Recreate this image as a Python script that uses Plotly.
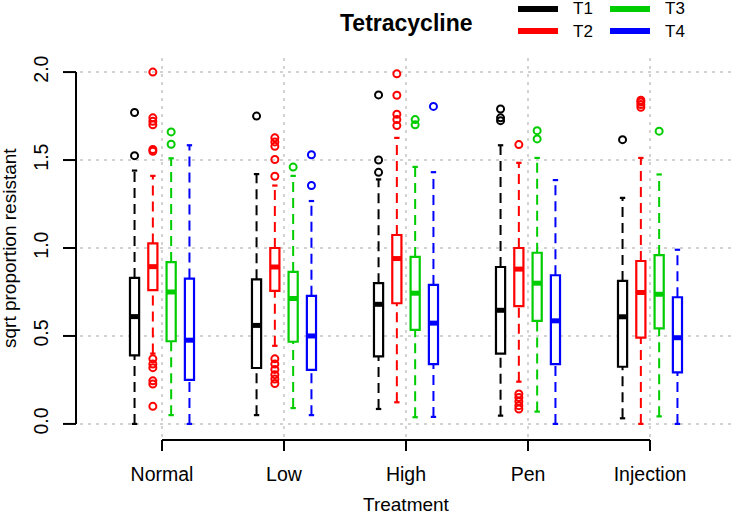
import plotly.graph_objects as go

# ---------------- data ----------------
groups = ["Normal", "Low", "High", "Pen", "Injection"]
series = ["T1", "T2", "T3", "T4"]
colors = ["#000000", "#FF0000", "#00CD00", "#0000FF"]

lower_whisker = [
    [0.00, 0.05, 0.085, 0.047, 0.032],
    [0.40, 0.444, 0.123, 0.24, 0.00],
    [0.05, 0.09, 0.038, 0.07, 0.043],
    [0.00, 0.05, 0.04, 0.00, 0.00],
]
q1 = [
    [0.39, 0.318, 0.384, 0.40, 0.325],
    [0.76, 0.756, 0.686, 0.67, 0.49],
    [0.47, 0.467, 0.535, 0.586, 0.543],
    [0.25, 0.307, 0.34, 0.34, 0.293],
]
median = [
    [0.61, 0.56, 0.68, 0.646, 0.609],
    [0.894, 0.892, 0.94, 0.88, 0.747],
    [0.75, 0.713, 0.743, 0.80, 0.737],
    [0.476, 0.50, 0.573, 0.586, 0.49],
]
q3 = [
    [0.83, 0.822, 0.80, 0.892, 0.813],
    [1.026, 1.00, 1.074, 1.00, 0.926],
    [0.92, 0.864, 0.949, 0.973, 0.96],
    [0.826, 0.728, 0.79, 0.845, 0.72],
]
upper_whisker = [
    [1.44, 1.42, 1.39, 1.584, 1.285],
    [1.41, 1.355, 1.626, 1.484, 1.512],
    [1.51, 1.41, 1.461, 1.512, 1.418],
    [1.584, 1.267, 1.431, 1.386, 0.99],
]
outliers = [
    [[1.525, 1.77], [1.75], [1.43, 1.50, 1.87], [1.724, 1.74, 1.79], [1.616]],
    [[0.10, 0.227, 0.245, 0.32, 0.34, 0.37, 1.55, 1.56, 1.70, 1.72, 1.74, 2.0],
     [0.23, 0.255, 0.28, 0.31, 0.34, 0.37, 1.408, 1.503, 1.578, 1.603, 1.626],
     [1.696, 1.73, 1.76, 1.868, 1.99],
     [0.085, 0.104, 0.127, 0.15, 0.17, 1.588],
     [1.80, 1.815, 1.83, 1.84]],
    [[1.59, 1.66], [1.46], [1.70, 1.73], [1.62, 1.667], [1.664]],
    [[], [1.355, 1.53], [1.805], [], []],
]
yticks = [0.0, 0.5, 1.0, 1.5, 2.0]

# ---------------- layout geometry ----------------
W, H = 733, 516
ML, MR, MT, MB = 80, 0, 58, 78
PW, PH = W - ML - MR, H - MT - MB
offsets = [-0.225, -0.075, 0.075, 0.225]
box_w = 0.075
cap_hw = 0.022
FONT = "Liberation Sans, Arial, sans-serif"


def px_x(px):
    return (px - ML) / PW


def px_y(py):
    return 1 - (py - MT) / PH


fig = go.Figure()

for s, name in enumerate(series):
    col = colors[s]
    pos = [g + 1 + offsets[s] for g in range(len(groups))]
    # dashed whiskers
    wx, wy = [], []
    for i, p in enumerate(pos):
        wx += [p, p, None, p, p, None]
        wy += [lower_whisker[s][i], q1[s][i], None, q3[s][i], upper_whisker[s][i], None]
    fig.add_trace(go.Scatter(x=wx, y=wy, mode="lines", showlegend=False, hoverinfo="skip",
                             line=dict(color=col, width=2, dash="10px,6px")))
    # box body
    fig.add_trace(go.Box(x=pos, q1=q1[s], median=median[s], q3=q3[s],
                         lowerfence=q1[s], upperfence=q3[s], width=box_w,
                         whiskerwidth=0, fillcolor="white", name=name, showlegend=False,
                         line=dict(color=col, width=2.2), hoverinfo="skip"))
    # thick median
    mx, my = [], []
    for i, p in enumerate(pos):
        mx += [p - box_w / 2, p + box_w / 2, None]
        my += [median[s][i], median[s][i], None]
    fig.add_trace(go.Scatter(x=mx, y=my, mode="lines", showlegend=False, hoverinfo="skip",
                             line=dict(color=col, width=5)))
    # staples
    cx, cy = [], []
    for i, p in enumerate(pos):
        for v in (lower_whisker[s][i], upper_whisker[s][i]):
            cx += [p - cap_hw, p + cap_hw, None]
            cy += [v, v, None]
    fig.add_trace(go.Scatter(x=cx, y=cy, mode="lines", showlegend=False, hoverinfo="skip",
                             line=dict(color=col, width=2.2)))
    # outliers
    ox, oy = [], []
    for i, p in enumerate(pos):
        for v in outliers[s][i]:
            ox.append(p)
            oy.append(v)
    fig.add_trace(go.Scatter(x=ox, y=oy, mode="markers", showlegend=False, hoverinfo="skip",
                             marker=dict(symbol="circle-open", size=7, color=col,
                                         line=dict(color=col, width=2))))

shapes = []
# y-axis bracket
shapes.append(dict(type="line", xref="paper", xsizemode="pixel", xanchor=0, x0=-4, x1=-4,
                   yref="y", y0=yticks[0], y1=yticks[-1], line=dict(color="black", width=2)))
for v in yticks:
    shapes.append(dict(type="line", xref="paper", xsizemode="pixel", xanchor=0, x0=-4, x1=-17,
                       yref="y", y0=v, y1=v, line=dict(color="black", width=2)))
# x-axis bracket
shapes.append(dict(type="line", yref="paper", ysizemode="pixel", yanchor=0, y0=-2, y1=-2,
                   xref="x", x0=1, x1=len(groups), line=dict(color="black", width=2)))
for g in range(len(groups)):
    shapes.append(dict(type="line", yref="paper", ysizemode="pixel", yanchor=0, y0=-2, y1=-13,
                       xref="x", x0=g + 1, x1=g + 1, line=dict(color="black", width=2)))

# legend (manual, 2x2 like R)
annotations = []
leg_pos = {"T1": (518, 9), "T3": (610, 9), "T2": (518, 31), "T4": (610, 31)}
for s, name in enumerate(series):
    lx, ly = leg_pos[name]
    shapes.append(dict(type="line", xref="paper", yref="paper", x0=px_x(lx), x1=px_x(lx + 40),
                       y0=px_y(ly), y1=px_y(ly), line=dict(color=colors[s], width=6)))
    annotations.append(dict(text=name, xref="paper", yref="paper", x=px_x(lx + 53), y=px_y(ly),
                            xanchor="left", yanchor="middle", showarrow=False,
                            font=dict(family=FONT, size=17, color="black")))

annotations.append(dict(text="<b>Tetracycline</b>", xref="x", yref="paper", x=3, y=px_y(23),
                        xanchor="center", yanchor="middle", showarrow=False,
                        font=dict(family=FONT, size=23, color="black")))
annotations.append(dict(text="sqrt proportion resistant", xref="paper", yref="y", x=px_x(9), y=1.0,
                        xanchor="center", yanchor="middle", textangle=-90, showarrow=False,
                        font=dict(family=FONT, size=19, color="black")))
annotations.append(dict(text="Treatment", xref="x", yref="paper", x=3, y=px_y(504),
                        xanchor="center", yanchor="middle", showarrow=False,
                        font=dict(family=FONT, size=19, color="black")))

fig.update_layout(
    width=W, height=H, margin=dict(l=ML, r=MR, t=MT, b=MB),
    paper_bgcolor="white", plot_bgcolor="white", boxmode="overlay", showlegend=False,
    shapes=shapes, annotations=annotations,
    xaxis=dict(range=[1 - 82 / 122, 1 + 571 / 122], tickvals=list(range(1, len(groups) + 1)),
               ticktext=groups, showgrid=True, gridcolor="#D3D3D3", griddash="3px,5px", gridwidth=1.5,
               zeroline=False, showline=False, ticks="", ticklabelstandoff=22,
               tickfont=dict(family=FONT, size=19.5, color="black")),
    yaxis=dict(range=[-0.08, 2.08], tickvals=yticks, tickformat=".1f", showgrid=True,
               gridcolor="#D3D3D3", griddash="3px,5px", gridwidth=1.5, zeroline=False, showline=False,
               ticks="", tickangle=-90, ticklabelstandoff=27,
               tickfont=dict(family=FONT, size=19.5, color="black")),
)

fig.write_html("out.html", config={"displayModeBar": False},
               post_script="document.body.style.margin='0';document.body.style.overflow='hidden';")
